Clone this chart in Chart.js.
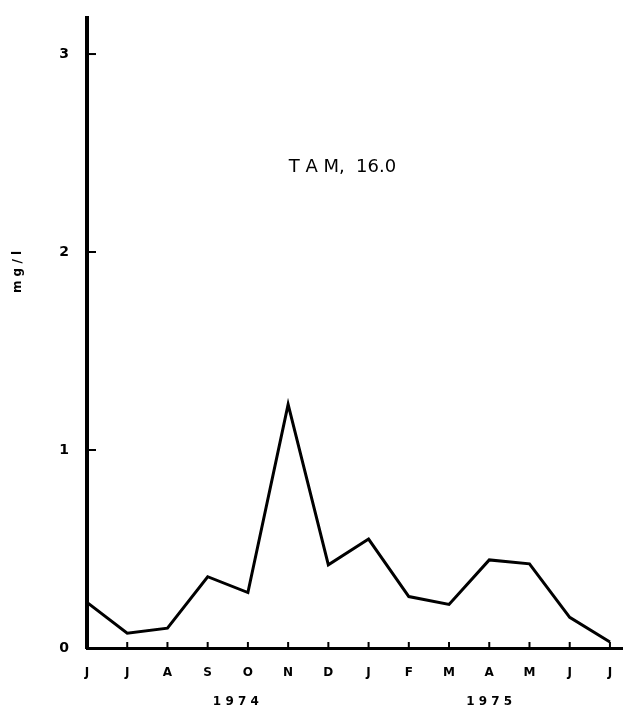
<!DOCTYPE html>
<html>
<head>
<meta charset="utf-8">
<script src="https://cdn.jsdelivr.net/npm/chart.js@4"></script>
<style>
  html, body { margin: 0; padding: 0; background: #fff; }
  #wrap { width: 624px; height: 714px; }
</style>
</head>
<body>
<div id="wrap"><canvas id="chart" width="624" height="714"></canvas></div>
<script>
// monthly samples, June 1974 - July 1975
const months = ['J', 'J', 'A', 'S', 'O', 'N', 'D', 'J', 'F', 'M', 'A', 'M', 'J', 'J'];
const values = [0.23, 0.075, 0.10, 0.36, 0.28, 1.23, 0.42, 0.55, 0.26, 0.22, 0.445, 0.425, 0.155, 0.03];
const yTicks = [0, 1, 2, 3];
const years = [{ label: '1 9 7 4', at: 3.7 }, { label: '1 9 7 5', at: 10 }];
const title = 'T A M,  16.0';
const unit = 'm g / l';

const FONT = '"DejaVu Sans", sans-serif';

// extra drawing: inward ticks, year labels, title, unit label
const decorations = {
  id: 'decorations',
  afterDraw(chart) {
    const { ctx, chartArea, scales: { x, y } } = chart;
    ctx.save();
    ctx.strokeStyle = '#000';
    ctx.lineWidth = 2;
    yTicks.forEach(v => {
      if (v === 0) return;
      const py = y.getPixelForValue(v);
      ctx.beginPath();
      ctx.moveTo(chartArea.left, py);
      ctx.lineTo(chartArea.left + 9, py);
      ctx.stroke();
    });
    months.forEach((m, i) => {
      if (i === 0) return;
      const px = x.getPixelForValue(i);
      ctx.beginPath();
      ctx.moveTo(px, chartArea.bottom);
      ctx.lineTo(px, chartArea.bottom - 6);
      ctx.stroke();
    });

    ctx.fillStyle = '#000';
    ctx.textAlign = 'center';
    ctx.textBaseline = 'middle';
    ctx.font = 'bold 12px ' + FONT;
    years.forEach(yr => {
      ctx.fillText(yr.label, x.getPixelForValue(yr.at), 702);
    });

    ctx.font = '18px ' + FONT;
    ctx.fillText(title, x.getPixelForValue(6.35), y.getPixelForValue(2.43));

    ctx.font = 'bold 12px ' + FONT;
    ctx.translate(18, 272);
    ctx.rotate(-Math.PI / 2);
    ctx.fillText(unit, 0, 0);
    ctx.restore();
  }
};

new Chart(document.getElementById('chart'), {
  type: 'line',
  data: {
    datasets: [{
      data: values.map((v, i) => ({ x: i, y: v })),
      borderColor: '#000',
      borderWidth: 3,
      pointRadius: 0,
      tension: 0,
      fill: false
    }]
  },
  options: {
    responsive: false,
    animation: false,
    layout: { padding: { top: 10, right: 2, left: 0, bottom: 0 } },
    plugins: { legend: { display: false }, tooltip: { enabled: false } },
    scales: {
      x: {
        type: 'linear',
        min: 0,
        max: 13.3,
        afterBuildTicks: s => { s.ticks = months.map((m, i) => ({ value: i })); },
        afterFit: s => { s.height = 66; },
        border: { display: true, color: '#000', width: 3 },
        grid: { display: false },
        ticks: {
          padding: 10,
          color: '#000',
          font: { family: FONT, size: 12, weight: 'bold' },
          maxRotation: 0,
          callback: v => months[v]
        }
      },
      y: {
        min: 0,
        max: 3.18,
        afterBuildTicks: s => { s.ticks = yTicks.map(v => ({ value: v })); },
        afterFit: s => { s.width = 87; },
        border: { display: true, color: '#000', width: 4 },
        grid: { display: false },
        ticks: {
          padding: 10,
          color: '#000',
          font: { family: FONT, size: 14, weight: 'bold' }
        }
      }
    }
  },
  plugins: [decorations]
});
</script>
</body>
</html>
